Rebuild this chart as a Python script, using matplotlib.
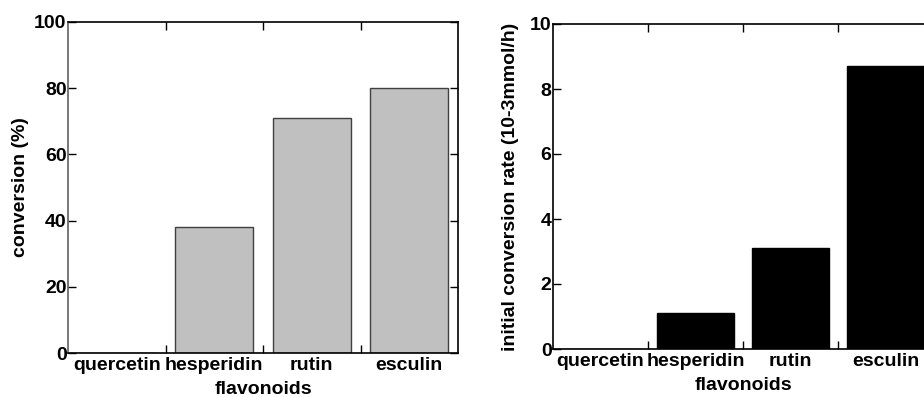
import numpy as np
import matplotlib.pyplot as plt

plt.rcParams['font.family'] = ['Liberation Sans', 'DejaVu Sans']
plt.rcParams['font.weight'] = 'bold'

# data
flavonoids = ['quercetin', 'hesperidin', 'rutin', 'esculin']
conversion = [0, 38, 71, 80]
rate = [0, 1.1, 3.1, 8.7]

FS = 14
x = np.arange(len(flavonoids))
fig = plt.figure(figsize=(9.24, 3.97), dpi=100)

ax1 = fig.add_axes([68/924, 1-353/397, 390/924, 331/397])
ax2 = fig.add_axes([553/924, 1-349/397, 380/924, 325/397])


def style(ax, ymax, step):
    ax.set_xlim(-0.5, len(flavonoids)-0.5)
    ax.set_ylim(0, ymax)
    ax.set_yticks(np.arange(0, ymax+0.01, step))
    # category boundary ticks on x, labels at centers
    ax.set_xticks(x[:-1] + 0.5)
    ax.set_xticklabels([])
    ax.set_xticks(x, minor=True)
    ax.set_xticklabels(flavonoids, minor=True, fontsize=FS, fontweight='bold')
    ax.tick_params(axis='x', which='minor', length=0, pad=3)
    ax.tick_params(axis='x', which='major', direction='in', length=6,
                   top=True, bottom=True, width=1)
    ax.tick_params(axis='y', direction='in', length=6, right=True,
                   labelsize=FS, width=1, pad=1)
    for lbl in ax.get_yticklabels():
        lbl.set_fontweight('bold')
    for s in ax.spines.values():
        s.set_linewidth(1.2)
    ax.set_xlabel('flavonoids', fontsize=FS, fontweight='bold', labelpad=5)


ax1.bar(x, conversion, width=0.8, color='#c0c0c0', edgecolor='#404040', linewidth=1)
style(ax1, 100, 20)
ax1.spines['left'].set_color('#606060')
ax1.set_ylabel('conversion (%)', fontsize=FS, fontweight='bold', labelpad=4)

ax2.bar(x, rate, width=0.82, color='black', edgecolor='black')
style(ax2, 10, 2)
ax2.set_ylabel('initial conversion rate (10-3mmol/h)', fontsize=FS,
               fontweight='bold', labelpad=8)

fig.savefig('out.png', dpi=100)
